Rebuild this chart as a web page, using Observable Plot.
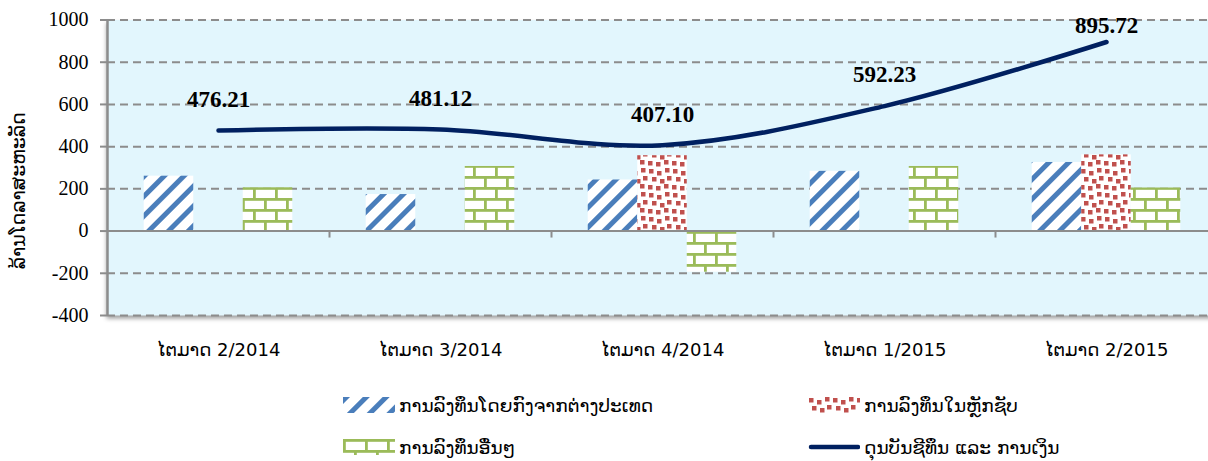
<!DOCTYPE html>
<html>
<head>
<meta charset="utf-8">
<script src="https://cdn.jsdelivr.net/npm/d3@7"></script>
<script src="https://cdn.jsdelivr.net/npm/@observablehq/plot@0.6"></script>
<style>
  html, body { margin: 0; padding: 0; overflow: hidden; background: #fff; }
  #wrap { position: relative; width: 1208px; height: 461px; }
  #chart [aria-label="frame"] { filter: drop-shadow(-1px 3px 2px rgba(0,0,0,0.38)); }
  .lao { font-family: "DejaVu Sans", "Noto Sans", sans-serif; }
  .item { position: absolute; display: flex; align-items: center; height: 30px; font-size: 18.5px; color: #000; white-space: nowrap; }
  .item svg { margin-right: 4px; flex: none; }
</style>
</head>
<body>
<svg width="0" height="0" style="position:absolute">
  <defs>
    <pattern id="stripes" patternUnits="userSpaceOnUse" width="14" height="14" patternTransform="rotate(45)">
      <rect width="14" height="14" fill="#fff"/>
      <rect x="0" y="0" width="5" height="14" fill="#4a7ebb"/>
    </pattern>
    <pattern id="dots" patternUnits="userSpaceOnUse" width="24" height="24">
      <rect width="24" height="24" fill="#fff"/>
      <g fill="#c0504d">
        <rect x="1" y="1" width="4.5" height="4.5"/>
        <rect x="9" y="3" width="4.5" height="4.5"/>
        <rect x="17" y="0" width="4.5" height="4.5"/>
        <rect x="4" y="9" width="4.5" height="4.5"/>
        <rect x="12" y="11" width="4.5" height="4.5"/>
        <rect x="19" y="8" width="4.5" height="4.5"/>
        <rect x="0" y="17" width="4.5" height="4.5"/>
        <rect x="8" y="18" width="4.5" height="4.5"/>
        <rect x="16" y="16" width="4.5" height="4.5"/>
      </g>
    </pattern>
    <pattern id="bricks" patternUnits="userSpaceOnUse" width="22" height="22">
      <rect width="22" height="22" fill="#fff"/>
      <g fill="#9bbb59">
        <rect x="0" y="0" width="22" height="2.8"/>
        <rect x="0" y="11" width="22" height="2.8"/>
        <rect x="0" y="0" width="2.8" height="11"/>
        <rect x="11" y="11" width="2.8" height="11"/>
      </g>
    </pattern>
  </defs>
</svg>
<div id="wrap">
  <div id="chart"></div>
  <div id="legend" class="lao"></div>
</div>
<script>
const categories = ["ໄຕມາດ 2/2014", "ໄຕມາດ 3/2014", "ໄຕມາດ 4/2014", "ໄຕມາດ 1/2015", "ໄຕມາດ 2/2015"];
const seriesNames = ["ການລົງທຶນໂດຍກົງຈາກຕ່າງປະເທດ", "ການລົງທຶນໃນຫຼັກຊັບ", "ການລົງທຶນອື່ນໆ"];
const directInvestment = [260, 173, 242, 283, 325];
const portfolioInvestment = [null, null, 357, null, 361];
const otherInvestment = [205, 306, -195, 306, 204];
const lineName = "ດຸນບັນຊີທຶນ ແລະ ການເງິນ";
const balance = [476.21, 481.12, 407.10, 592.23, 895.72];
const yTicks = [-400, -200, 0, 200, 400, 600, 800, 1000];
const yTitle = "ລ້ານໂດລາສະຫະລັດ";

const fills = ["url(#stripes)", "url(#dots)", "url(#bricks)"];
const seriesValues = [directInvestment, portfolioInvestment, otherInvestment];

const bars = [];
seriesValues.forEach((vals, s) => vals.forEach((v, i) => {
  if (v != null) bars.push({i, cat: categories[i], s, value: v});
}));
const lineRows = balance.map((v, i) => ({i, cat: categories[i], value: v}));
const boundaries = categories.slice(1).map((_, i) => i + 0.5);

const bw = 0.223;
const gray = "#8c8c8c";
const laoFont = "DejaVu Sans, Noto Sans, sans-serif";
const serif = "Liberation Serif, Times New Roman, serif";
const xDomain = [-0.5, categories.length - 0.5];

const barMarks = seriesValues.map((_, s) =>
  Plot.rectY(bars.filter(d => d.s === s), {
    x1: d => d.i + (d.s - 1) * bw - bw / 2,
    x2: d => d.i + (d.s - 1) * bw + bw / 2,
    y: "value",
    fill: fills[s]
  })
);

const chart = Plot.plot({
  width: 1208,
  height: 375,
  marginLeft: 107,
  marginRight: -9,
  marginTop: 19.5,
  marginBottom: 60,
  style: {background: "transparent", overflow: "hidden"},
  x: {domain: xDomain, axis: null},
  y: {domain: [yTicks[0], yTicks[yTicks.length - 1]], axis: null},
  marks: [
    Plot.frame({fill: "#e2f6fd", stroke: null}),
    Plot.gridY(yTicks.filter(t => t !== 0), {stroke: gray, strokeOpacity: 1, strokeWidth: 2, strokeDasharray: "8,5"}),
    Plot.axisY({ticks: yTicks, label: null, tickSize: 7, tickPadding: 12, stroke: gray, strokeWidth: 2, tickFormat: d => String(d),
      fontSize: 20, fontFamily: serif, fill: "#000"}),
    ...barMarks,
    Plot.ruleY([0], {stroke: gray, strokeWidth: 2}),
    Plot.ruleX(boundaries, {y1: 0, y2: -33, stroke: gray, strokeWidth: 2}),
    Plot.ruleX([xDomain[0]], {stroke: gray, strokeWidth: 2.5}),
    Plot.line(lineRows, {x: "i", y: "value", curve: "catmull-rom", stroke: "#002060", strokeWidth: 4.5, strokeLinecap: "round"}),
    Plot.text(lineRows, {filter: d => d.i < categories.length - 1, x: "i", y: "value", text: d => d.value.toFixed(2), dy: -31,
      fontSize: 23, fontWeight: "bold", fontFamily: serif, fill: "#000"}),
    Plot.text(lineRows, {filter: d => d.i === categories.length - 1, x: "i", y: "value", text: d => d.value.toFixed(2), dy: -16,
      fontSize: 23, fontWeight: "bold", fontFamily: serif, fill: "#000"}),
    Plot.axisX({ticks: categories.map((_, i) => i), label: null, tickFormat: i => categories[i], tickSize: 0, tickPadding: 28,
      fontSize: 18, fontFamily: laoFont, fill: "#000"}),
    Plot.text([yTitle], {frameAnchor: "left", textAnchor: "middle", rotate: -90, dx: -89, dy: 23, fontSize: 19, fontFamily: laoFont, fill: "#000"})
  ]
});
document.getElementById("chart").appendChild(chart);

// Legend
const legend = document.getElementById("legend");
const items = [
  {name: seriesNames[0], type: "bar", fill: fills[0], left: 343, cy: 405},
  {name: seriesNames[1], type: "bar", fill: fills[1], left: 808, cy: 405},
  {name: seriesNames[2], type: "bar", fill: fills[2], left: 343, cy: 447},
  {name: lineName, type: "line", left: 808, cy: 447}
];
const svgNS = "http://www.w3.org/2000/svg";
for (const it of items) {
  const div = document.createElement("div");
  div.className = "item";
  div.style.left = it.left + "px";
  div.style.top = (it.cy - 375 - 15) + "px";
  const sw = document.createElementNS(svgNS, "svg");
  sw.setAttribute("width", 52);
  sw.setAttribute("height", 16);
  if (it.type === "bar") {
    const r = document.createElementNS(svgNS, "rect");
    r.setAttribute("x", 0); r.setAttribute("y", 0);
    r.setAttribute("width", 52); r.setAttribute("height", 16);
    r.setAttribute("fill", it.fill);
    sw.appendChild(r);
  } else {
    const l = document.createElementNS(svgNS, "line");
    l.setAttribute("x1", 3); l.setAttribute("x2", 50);
    l.setAttribute("y1", 8); l.setAttribute("y2", 8);
    l.setAttribute("stroke", "#002060"); l.setAttribute("stroke-width", 4.5);
    l.setAttribute("stroke-linecap", "round");
    sw.appendChild(l);
  }
  div.appendChild(sw);
  const span = document.createElement("span");
  span.textContent = it.name;
  div.appendChild(span);
  legend.appendChild(div);
}
legend.style.position = "absolute";
legend.style.left = "0px";
legend.style.top = "375px";
</script>
</body>
</html>
